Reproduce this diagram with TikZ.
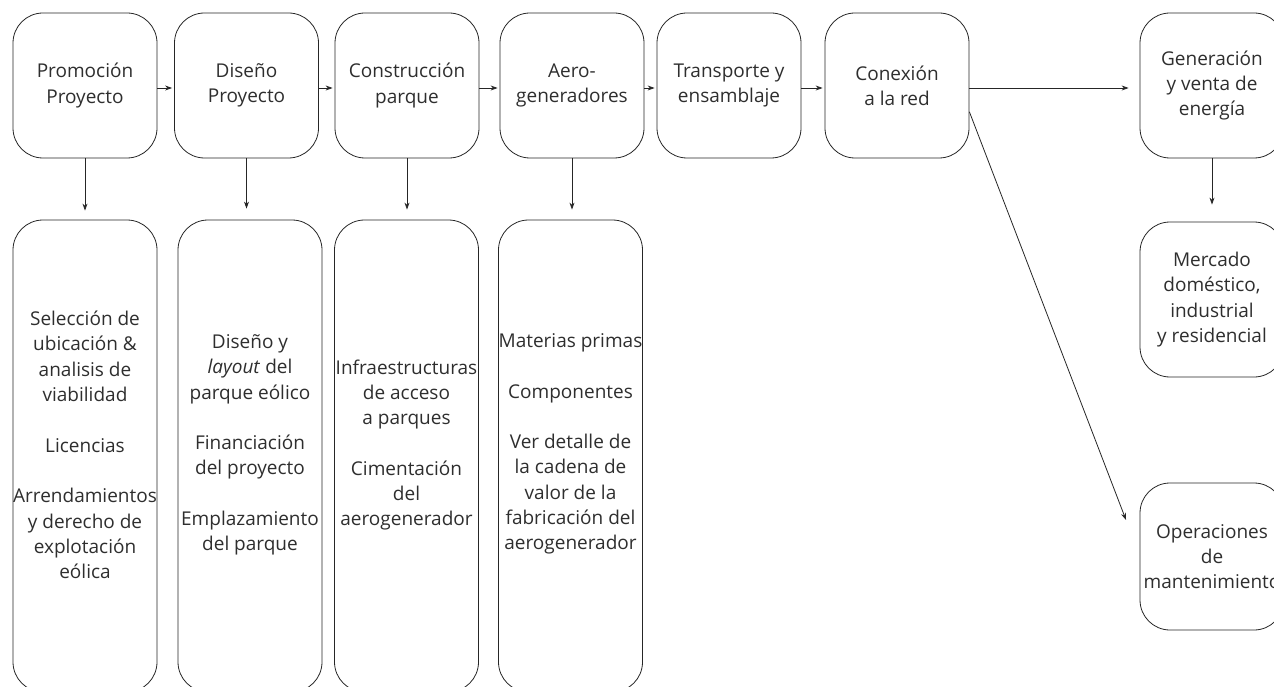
\documentclass[tikz,border=0pt]{standalone}
\usepackage{fontspec}
\setmainfont{Open Sans}
\usetikzlibrary{arrows.meta}
\definecolor{txt}{HTML}{2E2E2E}
\definecolor{ln}{HTML}{262626}
\begin{document}
\begin{tikzpicture}[x=1pt,y=-1pt,
  box/.style={draw=ln, line width=0.8pt, rounded corners=30pt, minimum width=144pt,
    inner sep=0pt, align=center, text=txt, font=\fontsize{19pt}{25.3pt}\selectfont},
  lbl/.style={align=center, text=txt, inner sep=0pt, font=\fontsize{19pt}{25.3pt}\selectfont},
  arr/.style={draw=ln, line width=0.8pt, -{Stealth[length=7pt,width=5pt]}},
  harr/.style={arr, shorten >=2pt}]
\useasboundingbox (0,0) rectangle (1274,687);
\clip (0,0) rectangle (1274,687);
% top row
\node[box, minimum height=145pt] (B1) at (85,85.5) {Promoción\\Proyecto};
\node[box, minimum height=145pt] (B2) at (246.5,85.5) {Diseño\\Proyecto};
\node[box, minimum height=145pt] (B3) at (407,85.5) {Construcción\\parque};
\node[box, minimum height=145pt] (B4) at (572,85.5) {Aero-\\generadores};
\node[box, minimum height=145pt] (B5) at (729,85.5) {Transporte y\\ensamblaje};
\node[box, minimum height=145pt] (B6) at (897,85.5) {Conexión\\a la red};
\node[box, minimum height=145pt] (B7) at (1212,85.5) {Generación\\y venta de\\energía};
% right column
\node[box, minimum height=155pt] (M) at (1212,299.5) {Mercado\\doméstico,\\industrial\\y residencial};
\node[box, minimum height=147pt] (O) at (1212,556.5) {Operaciones\\de\\mantenimiento};
% bottom row boxes
\node[box, minimum height=472pt] (Bb1) at (85,456) {};
\node[box, minimum height=472pt] (Bb2) at (250,456) {};
\node[box, minimum height=472pt] (Bb3) at (406.5,456) {};
\node[box, minimum height=472pt] (Bb4) at (570.5,456) {};
% bottom row texts
\node[lbl] (T1) at (85,445) {Selección de\\ubicación \&\\analisis de\\viabilidad\\[25.3pt]Licencias\\[25.3pt]Arrendamientos\\y derecho de\\explotación\\eólica};
\node[lbl] (T2) at (250,445) {Diseño y\\\textit{layout} del\\parque eólico\\[25.3pt]Financiación\\del proyecto\\[25.3pt]Emplazamiento\\del parque};
\node[lbl] (T3) at (406.5,445) {Infraestructuras\\de acceso\\a parques\\[25.3pt]Cimentación\\del\\aerogenerador};
\node[lbl] (T4) at (570.5,444) {Materias primas\\[25.3pt]Componentes\\[25.3pt]Ver detalle de\\la cadena de\\valor de la\\fabricación del\\aerogenerador};
% horizontal arrows
\draw[harr] ([yshift=-2.5pt]B1.east) -- ([yshift=-2.5pt]B2.west);
\draw[harr] ([yshift=-2.5pt]B2.east) -- ([yshift=-2.5pt]B3.west);
\draw[harr] ([yshift=-2.5pt]B3.east) -- ([yshift=-2.5pt]B4.west);
\draw[harr] ([yshift=-2.5pt]B4.east) -- ([yshift=-2.5pt]B5.west);
\draw[harr] ([yshift=-2.5pt]B5.east) -- ([yshift=-2.5pt]B6.west);
\draw[arr, shorten >=11pt] ([yshift=-2.5pt]B6.east) -- ([yshift=-2.5pt]B7.west);
% vertical arrows
\draw[arr, shorten >=9pt] (B1.south) -- (B1.south |- Bb1.north);
\draw[arr, shorten >=11pt] (B2.south) -- (B2.south |- Bb2.north);
\draw[arr, shorten >=10pt] (B3.south) -- (B3.south |- Bb3.north);
\draw[arr, shorten >=10pt] (B4.south) -- (B4.south |- Bb4.north);
\draw[arr, shorten >=17pt] (B7.south) -- (B7.south |- M.north);
% diagonal arrow
\coordinate (opin) at (1126,520);
\draw[arr] (B6.-20) -- (opin);
\end{tikzpicture}
\end{document}
